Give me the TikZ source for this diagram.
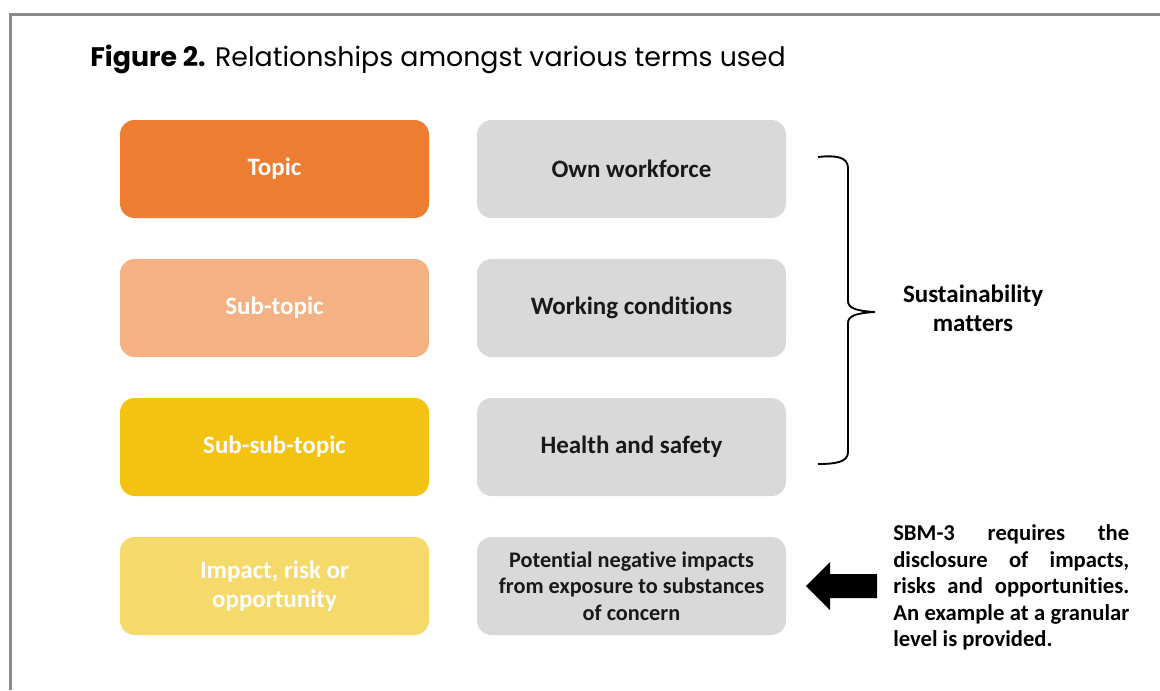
\documentclass[tikz,border=0pt]{standalone}
\usepackage{fontspec}
\setmainfont{Carlito}[Ligatures=NoCommon]
\newfontfamily\titlefont{Poppins}
\usetikzlibrary{arrows}

\definecolor{framegray}{HTML}{8A8A8A}
\definecolor{topicor}{HTML}{ED7D31}
\definecolor{subor}{HTML}{F4B183}
\definecolor{subsubor}{HTML}{F4C211}
\definecolor{iroor}{HTML}{F6D96B}
\definecolor{boxgray}{HTML}{D9D9D9}

\begin{document}
\begin{tikzpicture}[x=0.75pt,y=-0.75pt,node distance=104.25pt,
    box/.style={rounded corners=11pt,minimum width=231.75pt,minimum height=73.5pt,
      inner sep=0pt,align=center,font=\fontsize{18.75}{20.5}\selectfont\bfseries},
    term/.style={box,fill=#1,text=white},
    example/.style={box,fill=boxgray,text=black!90}]
      \useasboundingbox (0,0) rectangle (1160,690);
      \draw[framegray,line width=2.25pt] (1160,14) -- (10,14) -- (10,690);

      \node[anchor=base west,inner sep=0pt] (title) at (90,66)
        {\titlefont\fontsize{20.1}{24}\selectfont\textbf{Figure 2.} Relationships amongst various terms used};

      \node[term=topicor] (topic) at (274.5,169) {Topic};
      \node[term=subor] (sub) [below of=topic] {Sub-topic};
      \node[term=subsubor] (subsub) [below of=sub] {Sub-sub-topic};
      \node[term=iroor,font=\fontsize{18.75}{22}\selectfont\bfseries] (iro) [below of=subsub] {Impact, risk or\\opportunity};

      \node[example] (own) [right of=topic,node distance=267.75pt] {Own workforce};
      \node[example] (work) [below of=own] {Working conditions};
      \node[example] (health) [below of=work] {Health and safety};
      \node[example,font=\fontsize{16.7}{19.9}\selectfont\bfseries] (expo) [below of=health]
        {Potential negative impacts\\from exposure to substances\\of concern};

      % brace over the three matters
      \draw[line width=1.4pt]
      (818,157) .. controls (836,155) and (848,157) .. (848,168) -- (848,301)
      .. controls (848,308) and (856,311) .. (875,312)
      .. controls (856,313) and (848,316) .. (848,323) -- (848,452)
      .. controls (848,462) and (836,464) .. (818,464);
      \node[font=\fontsize{18.75}{21.75}\selectfont\bfseries,align=center] (matters) at (973,308)
        {Sustainability\\matters};

      \fill (806,586) -- (830,562) -- (830,574) -- (877,574) -- (877,598)
        -- (830,598) -- (830,610) -- cycle;
      \node[anchor=north west,inner sep=0pt,align=left,
        font=\fontsize{17}{19.9}\selectfont\bfseries] (sbm) at (893,524.5)
        {\makebox[177pt][s]{SBM-3 requires the}\\
         \makebox[177pt][s]{disclosure of impacts,}\\
         \makebox[177pt][s]{risks and opportunities.}\\
         \makebox[177pt][s]{An example at a granular}\\
         level is provided.};
    \end{tikzpicture}
\end{document}
